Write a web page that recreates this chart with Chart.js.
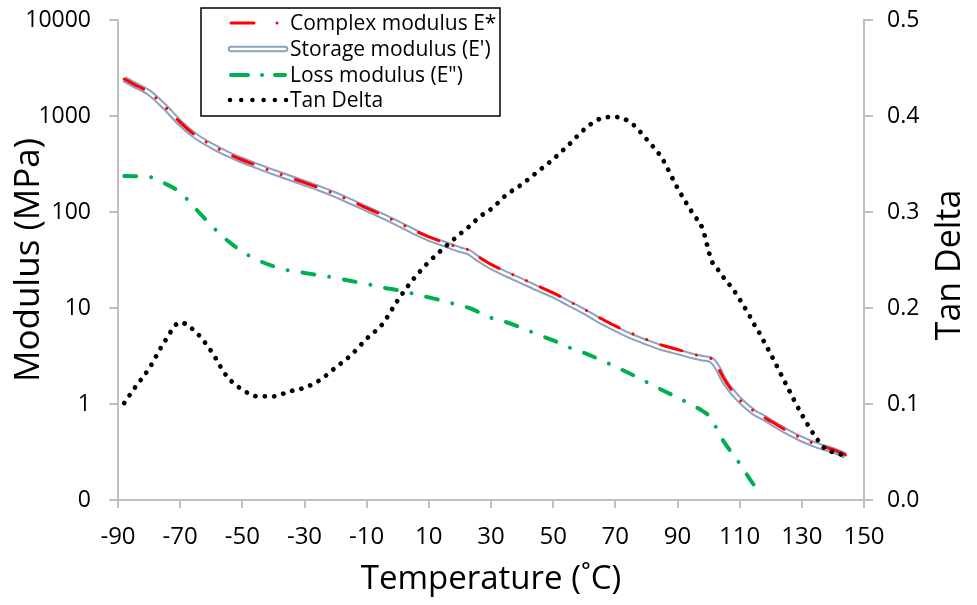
<!DOCTYPE html>
<html>
<head>
<meta charset="utf-8">
<script src="https://cdn.jsdelivr.net/npm/chart.js@4.4.1/dist/chart.umd.min.js"></script>
<style>
  html, body { margin: 0; padding: 0; background: #fff; }
  #wrap { width: 977px; height: 605px; }
</style>
</head>
<body>
<div id="wrap"><canvas id="dmaChart" width="977" height="605"></canvas></div>
<script>
// temperatura (°C) compartida por las cuatro curvas
const temperature = [
  -88, -85, -80, -75, -70, -65, -60, -55, -50, -45,
  -40, -35, -30, -25, -20, -15, -10, -5, 0, 5,
  10, 15, 20, 23, 25, 28, 30, 35, 40, 45,
  50, 55, 60, 65, 70, 75, 80, 85, 90, 95,
  98, 101, 103, 105, 108, 110, 113, 115, 116, 118,
  120, 125, 130, 135, 138, 140, 142, 144
];

const complexModulus = [
  2430, 2150, 1760, 1260, 860, 625, 500, 410, 348, 302,
  262, 230, 202, 177, 153, 130, 110, 93, 78, 65,
  55, 48, 42.5, 40, 36, 31, 28.5, 23.8, 20.2, 17,
  14.4, 11.8, 9.7, 7.9, 6.5, 5.5, 4.7, 4.1, 3.7, 3.3,
  3.12, 2.95, 2.4, 1.82, 1.32, 1.1, 0.92, 0.83, 0.8, 0.72,
  0.66, 0.53, 0.44, 0.375, 0.35, 0.335, 0.315, 0.295
];

const storageModulus = [
  2420, 2140, 1750, 1250, 845, 617, 492, 406, 345, 299,
  260, 228, 200, 175, 151, 128, 108, 91, 76, 63,
  53, 46.5, 40.5, 38, 34, 29.5, 27, 22.5, 19, 16,
  13.6, 11.2, 9.2, 7.4, 6.1, 5.1, 4.4, 3.85, 3.5, 3.15,
  3.0, 2.85, 2.35, 1.75, 1.3, 1.1, 0.9, 0.8, 0.77, 0.71,
  0.65, 0.52, 0.43, 0.37, 0.345, 0.33, 0.31, 0.29
];

const lossModulus = [
  237, 236, 232, 199, 160, 108, 72.6, 51, 38.6, 31.5,
  27.2, 24.6, 23.2, 21.9, 20.6, 19.1, 17.8, 16.4, 15.3, 14.1,
  12.9, 11.8, 10.6, 10.0, 9.4, 8.4, 7.9, 7.1, 6.2, 5.3,
  4.6, 3.9, 3.4, 2.9, 2.45, 2.05, 1.7, 1.4, 1.17, 0.96,
  0.85, 0.7, 0.52, 0.4, 0.295, 0.24, 0.17, 0.137, 0.124, null,
  null, null, null, null, null, null, null, null
];

const tanDelta = [
  0.101, 0.115, 0.137, 0.165, 0.185, 0.175, 0.155, 0.129, 0.115, 0.108,
  0.108, 0.113, 0.117, 0.125, 0.138, 0.151, 0.168, 0.183, 0.208, 0.230,
  0.248, 0.263, 0.277, 0.285, 0.291, 0.299, 0.303, 0.318, 0.329, 0.342,
  0.355, 0.370, 0.386, 0.397, 0.399, 0.393, 0.376, 0.356, 0.325, 0.298,
  0.283, 0.249, 0.240, 0.231, 0.219, 0.209, 0.193, 0.181, 0.176, 0.164,
  0.152, 0.120, 0.089, 0.063, 0.052, 0.050, 0.048, 0.047
];

const temperatureTicks = [-90, -70, -50, -30, -10, 10, 30, 50, 70, 90, 110, 130, 150];
const modulusTicks = [0.1, 1, 10, 100, 1000, 10000];
const modulusTickLabels = ['0', '1', '10', '100', '1000', '10000'];
const tanDeltaTicks = [0, 0.1, 0.2, 0.3, 0.4, 0.5];

const toPoints = values => temperature.map((t, i) => ({ x: t, y: values[i] }));

Chart.defaults.font.family = "'Open Sans', sans-serif";
Chart.defaults.color = '#000';

const axisGray = '#bfbfbf';

// leyenda dibujada a mano (Excel usa muestras de linea que Chart.js no tiene)
const legendBox = {
  id: 'legendBox',
  afterDraw(chart) {
    const ctx = chart.ctx;
    ctx.save();
    ctx.fillStyle = '#fff';
    ctx.fillRect(201, 8, 299, 108);
    ctx.strokeStyle = '#000';
    ctx.lineWidth = 1.5;
    ctx.strokeRect(201, 8, 299, 108);

    const rows = [23, 49, 75, 100];
    const x0 = 231, x1 = 285;
    ctx.lineCap = 'round';

    // Complex modulus
    ctx.strokeStyle = '#ff0000';
    ctx.lineWidth = 3;
    ctx.beginPath(); ctx.moveTo(x0, rows[0]); ctx.lineTo(254, rows[0]); ctx.stroke();
    ctx.beginPath(); ctx.moveTo(277, rows[0]); ctx.lineTo(277.01, rows[0]); ctx.stroke();

    // Storage modulus (linea doble)
    ctx.strokeStyle = '#8e9fc0';
    ctx.lineWidth = 6.5;
    ctx.beginPath(); ctx.moveTo(x0, rows[1]); ctx.lineTo(x1, rows[1]); ctx.stroke();
    ctx.strokeStyle = '#fff';
    ctx.lineWidth = 2.5;
    ctx.beginPath(); ctx.moveTo(x0, rows[1]); ctx.lineTo(x1, rows[1]); ctx.stroke();

    // Loss modulus
    ctx.strokeStyle = '#00b050';
    ctx.lineWidth = 4;
    ctx.beginPath(); ctx.moveTo(x0, rows[2]); ctx.lineTo(248, rows[2]); ctx.stroke();
    ctx.beginPath(); ctx.moveTo(262, rows[2]); ctx.lineTo(262.01, rows[2]); ctx.stroke();
    ctx.beginPath(); ctx.moveTo(275, rows[2]); ctx.lineTo(x1, rows[2]); ctx.stroke();

    // Tan Delta
    ctx.strokeStyle = '#000';
    ctx.lineWidth = 4.5;
    ctx.setLineDash([0.01, 11.2]);
    ctx.beginPath(); ctx.moveTo(230, rows[3]); ctx.lineTo(287, rows[3]); ctx.stroke();
    ctx.setLineDash([]);

    ctx.fillStyle = '#000';
    ctx.font = "21px 'Open Sans'";
    ctx.textAlign = 'left';
    ctx.textBaseline = 'middle';
    const labels = ['Complex modulus E*', "Storage modulus (E')", 'Loss modulus (E")', 'Tan Delta'];
    labels.forEach((txt, i) => ctx.fillText(txt, 290, rows[i] + 1));

    // titulo del eje secundario, girado como en Excel
    ctx.font = "34px 'Open Sans'";
    ctx.textAlign = 'center';
    ctx.translate(950, 265);
    ctx.rotate(-Math.PI / 2);
    ctx.fillText('Tan Delta', 0, 0);
    ctx.restore();
  }
};

const commonLine = {
  pointRadius: 0,
  fill: false,
  cubicInterpolationMode: 'monotone',
  spanGaps: false
};

// ejes verticales sin relleno extra arriba/abajo: el area de trazado la fija layout.padding
const fixVertical = width => axis => {
  axis.width = width;
  axis.paddingTop = 0;
  axis.paddingBottom = 0;
};

const ctx = document.getElementById('dmaChart');

new Chart(ctx, {
  type: 'line',
  data: {
    datasets: [
      Object.assign({}, commonLine, {
        label: 'Tan Delta',
        yAxisID: 'y2',
        data: toPoints(tanDelta),
        borderColor: '#000',
        borderWidth: 4.8,
        borderDash: [0.01, 9.4],
        borderCapStyle: 'round',
        order: 0
      }),
      Object.assign({}, commonLine, {
        label: 'Loss modulus (E")',
        yAxisID: 'y',
        data: toPoints(lossModulus),
        borderColor: '#00b050',
        borderWidth: 4,
        borderDash: [12, 15, 0.01, 15],
        borderCapStyle: 'round',
        order: 1
      }),
      Object.assign({}, commonLine, {
        label: 'Complex modulus E*',
        yAxisID: 'y',
        data: toPoints(complexModulus),
        borderColor: '#ff0000',
        borderWidth: 3,
        borderDash: [22, 15, 0.01, 15, 0.01, 15],
        borderCapStyle: 'round',
        order: 2
      }),
      Object.assign({}, commonLine, {
        label: 'storage-inner',
        yAxisID: 'y',
        data: toPoints(storageModulus),
        borderColor: '#ffffff',
        borderWidth: 2.5,
        order: 3
      }),
      Object.assign({}, commonLine, {
        label: "Storage modulus (E')",
        yAxisID: 'y',
        data: toPoints(storageModulus),
        borderColor: '#8e9fc0',
        borderWidth: 6.5,
        order: 4
      })
    ]
  },
  options: {
    responsive: false,
    animation: false,
    layout: { padding: { top: 20, left: 0, right: 0, bottom: 0 } },
    plugins: {
      legend: { display: false },
      tooltip: { enabled: false }
    },
    scales: {
      x: {
        type: 'linear',
        min: -90,
        max: 150,
        afterBuildTicks: axis => { axis.ticks = temperatureTicks.map(v => ({ value: v })); },
        afterFit: axis => { axis.height = 105; axis.paddingLeft = 0; axis.paddingRight = 0; },
        border: { color: axisGray, width: 2 },
        grid: { drawOnChartArea: false, tickLength: 8, color: axisGray, lineWidth: 2 },
        ticks: { font: { size: 24 }, padding: 15, maxRotation: 0, autoSkip: false },
        title: {
          display: true,
          text: 'Temperature (˚C)',
          font: { size: 33 },
          padding: { top: 0, bottom: 6 }
        }
      },
      y: {
        type: 'logarithmic',
        position: 'left',
        min: 0.1,
        max: 10000,
        afterBuildTicks: axis => { axis.ticks = modulusTicks.map(v => ({ value: v })); },
        afterFit: fixVertical(118),
        border: { color: axisGray, width: 2 },
        grid: { drawOnChartArea: false, tickLength: 9, color: axisGray, lineWidth: 2 },
        ticks: {
          font: { size: 23 },
          padding: 18,
          autoSkip: false,
          callback: (value) => {
            const i = modulusTicks.indexOf(value);
            return i >= 0 ? modulusTickLabels[i] : '';
          }
        },
        title: {
          display: true,
          text: 'Modulus (MPa)',
          font: { size: 35 },
          padding: { top: 8, bottom: 0 }
        }
      },
      y2: {
        type: 'linear',
        position: 'right',
        min: 0,
        max: 0.5,
        afterBuildTicks: axis => { axis.ticks = tanDeltaTicks.map(v => ({ value: v })); },
        afterFit: fixVertical(113),
        border: { color: axisGray, width: 2 },
        grid: { drawOnChartArea: false, tickLength: 9, color: axisGray, lineWidth: 2 },
        ticks: {
          font: { size: 23 },
          padding: 14,
          autoSkip: false,
          callback: value => Number(value).toFixed(1)
        }
      }
    }
  },
  plugins: [legendBox]
});
</script>
</body>
</html>
